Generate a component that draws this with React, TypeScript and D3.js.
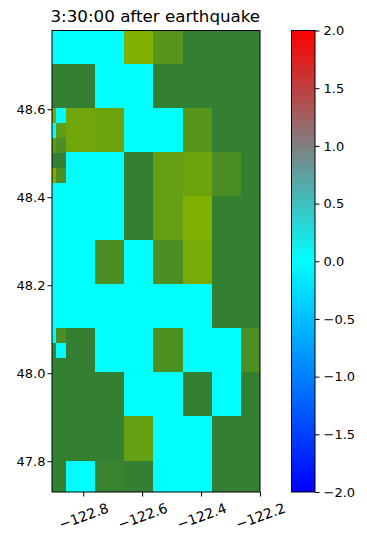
import React, { useEffect, useRef } from 'react';
import * as d3 from 'd3';

const title = '3:30:00 after earthquake';

// map extent
const lonRange = [-122.906, -122.2];
const latRange = [47.73, 48.779];
const lonTicks = [-122.8, -122.6, -122.4, -122.2];
const latTicks = [47.8, 48.0, 48.2, 48.4, 48.6];
const barTicks = [-2, -1.5, -1, -0.5, 0, 0.5, 1, 1.5, 2];

// cell edges, coarse grid
const lonEdges = [-122.906, -122.859, -122.76, -122.66, -122.563, -122.46, -122.363, -122.265, -122.2];
const latEdges = [48.779, 48.703, 48.603, 48.503, 48.403, 48.303, 48.203, 48.103, 48.003, 47.903, 47.8, 47.73];

// null = water (wave height 0), number = land shade 0..1
const N = null;
const cells: (number | null)[][] = [
  [N, N, N, 1, 0.45, 0, 0, 0],
  [0, 0, N, N, 0, 0, 0, 0],
  [N, 0.8, 0.75, N, N, 0.45, 0, 0],
  [N, N, N, 0, 0.65, 0.75, 0.3, 0],
  [N, N, N, 0, 0.62, 1, 0, 0],
  [N, N, 0.3, N, 0.3, 0.9, 0, 0],
  [N, N, N, N, N, N, 0, 0],
  [N, 0, N, N, 0.33, N, N, 0.33],
  [0, 0, 0, N, N, 0, N, 0],
  [0, 0, 0, 0.65, N, N, 0, 0],
  [0, N, 0.07, 0, N, N, 0, 0],
];

// finer nest in the left column
const fineLonEdges = [-122.906, -122.894, -122.859];
const fineLatEdges = [48.603, 48.569, 48.535, 48.501, 48.467, 48.433];
const fineCells: (number | null)[][] = [
  [0.85, N],
  [N, 0.6],
  [0.55, 0.3],
  [0, 0],
  [0.95, 0.3],
];
const fineLatEdges2 = [48.103, 48.069, 48.035, 48.003];
const fineCells2: (number | null)[][] = [
  [N, 0.3],
  [0.1, N],
  [0, 0],
];

const box = { left: 52, right: 260, top: 30.5, bottom: 492 };
const barBox = { left: 291.5, right: 315 };

const x = d3.scaleLinear().domain(lonRange).range([box.left, box.right]);
const y = d3.scaleLinear().domain(latRange).range([box.bottom, box.top]);
const barY = d3.scaleLinear().domain([-2, 2]).range([box.bottom, box.top]);
const waveColor = d3.scaleLinear<string>().domain([-2, 0, 2]).range(['#0000ff', '#00ffff', '#ff0000']);
const landColor = d3.scaleLinear<string>().domain([0, 1]).range(['#338033', '#80b000']);

const fill = (v: number | null) => (v === null ? waveColor(0) : landColor(v));
const minus = (s: string) => s.replace('-', '\u2212');

function App() {
  const svgRef = useRef<SVGSVGElement>(null);

  useEffect(() => {
    const svg = d3.select(svgRef.current);
    svg.selectAll('*').remove();

    function drawGrid(lons: number[], lats: number[], grid: (number | null)[][]) {
      grid.forEach((row, r) => {
        row.forEach((v, c) => {
          svg.append('rect')
            .attr('x', x(lons[c]))
            .attr('y', y(lats[r]))
            .attr('width', x(lons[c + 1]) - x(lons[c]))
            .attr('height', y(lats[r + 1]) - y(lats[r]))
            .attr('fill', fill(v))
            .attr('shape-rendering', 'crispEdges');
        });
      });
    }
    drawGrid(lonEdges, latEdges, cells);
    drawGrid(fineLonEdges, fineLatEdges, fineCells);
    drawGrid(fineLonEdges, fineLatEdges2, fineCells2);

    // colorbar
    const defs = svg.append('defs');
    const grad = defs.append('linearGradient').attr('id', 'bar').attr('x1', 0).attr('x2', 0).attr('y1', 1).attr('y2', 0);
    [-2, 0, 2].forEach(v => {
      grad.append('stop').attr('offset', (v + 2) / 4).attr('stop-color', waveColor(v));
    });
    svg.append('rect')
      .attr('x', barBox.left)
      .attr('y', box.top)
      .attr('width', barBox.right - barBox.left)
      .attr('height', box.bottom - box.top)
      .attr('fill', 'url(#bar)');

    const styleAxis = (g: any) => {
      g.selectAll('text').attr('font-family', 'DejaVu Sans').attr('font-size', 13).attr('fill', '#000');
      g.selectAll('line').attr('stroke', '#000').attr('stroke-width', 1);
      g.select('.domain').remove();
    };

    svg.append('g')
      .attr('transform', `translate(${box.left},0)`)
      .call(d3.axisLeft(y).tickValues(latTicks).tickSize(4.5).tickPadding(2).tickFormat(d3.format('.1f')) as any)
      .call(styleAxis);

    const xAxis = svg.append('g')
      .attr('transform', `translate(0,${box.bottom})`)
      .call(d3.axisBottom(x).tickValues(lonTicks).tickSize(4.5).tickFormat(d => minus(d3.format('.1f')(d as number))) as any)
      .call(styleAxis);
    xAxis.selectAll('text')
      .attr('font-size', 13.9)
      .attr('text-anchor', 'middle')
      .attr('dy', null)
      .attr('y', 0)
      .attr('dominant-baseline', 'central')
      .attr('transform', 'translate(0,24) rotate(-20)');

    svg.append('g')
      .attr('transform', `translate(${barBox.right},0)`)
      .call(d3.axisRight(barY).tickValues(barTicks).tickSize(4.5).tickPadding(4).tickFormat(d => minus(d3.format('.1f')(d as number))) as any)
      .call(styleAxis);

    // frames
    svg.append('rect')
      .attr('x', box.left).attr('y', box.top)
      .attr('width', box.right - box.left).attr('height', box.bottom - box.top)
      .attr('fill', 'none').attr('stroke', '#000').attr('stroke-width', 1);
    svg.append('rect')
      .attr('x', barBox.left).attr('y', box.top)
      .attr('width', barBox.right - barBox.left).attr('height', box.bottom - box.top)
      .attr('fill', 'none').attr('stroke', '#000').attr('stroke-width', 1);

    svg.append('text')
      .attr('x', box.left - 1.5)
      .attr('y', 22)
      .attr('font-family', 'DejaVu Sans')
      .attr('font-size', 16.7)
      .text(title);
  }, []);

  return <svg ref={svgRef} width={367} height={542} style={{ position: 'absolute', left: 0, top: 0 }} />;
}

export default App;
